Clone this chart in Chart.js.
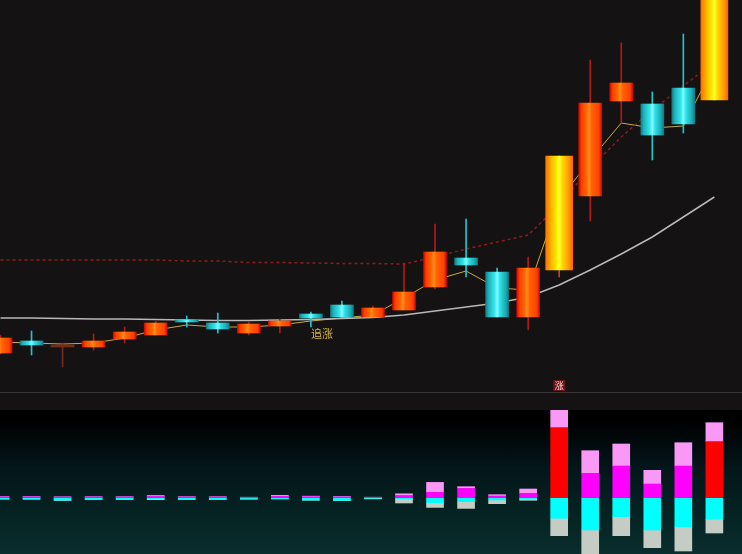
<!DOCTYPE html>
<html>
<head>
<meta charset="utf-8">
<script src="https://cdn.jsdelivr.net/npm/chart.js@4.4.0/dist/chart.umd.min.js"></script>
<style>
  html, body { margin: 0; padding: 0; background: #141213; }
  #wrap { width: 742px; height: 554px; overflow: hidden; }
  canvas { display: block; }
  #flow { background: linear-gradient(#000 0%, #000 8%, #03161a 40%, #062424 75%, #0a2d2d 100%); }
</style>
</head>
<body>
<div id="wrap">
  <canvas id="kline" width="742" height="410"></canvas>
  <canvas id="flow" width="742" height="144"></canvas>
</div>
<script>
// daily candles (price, yuan)
const openP  = [10.34,10.46,10.40,10.40,10.48,10.52,10.67,10.64,10.54,10.61,10.73,10.82,10.70,10.77,11.00,11.29,11.15,10.70,11.17,11.91,12.86,12.83,12.99,12.87];
const closeP = [10.49,10.42,10.40,10.46,10.55,10.64,10.65,10.58,10.63,10.66,10.69,10.70,10.79,10.95,11.35,11.22,10.70,11.19,12.31,12.84,13.04,12.52,12.63,13.89];
const highP  = [10.52,10.56,10.43,10.53,10.60,10.66,10.71,10.74,10.65,10.68,10.75,10.86,10.81,11.24,11.63,11.68,11.19,11.30,12.31,13.27,13.44,12.95,13.53,13.89];
const lowP   = [10.33,10.32,10.20,10.37,10.44,10.52,10.60,10.54,10.52,10.54,10.60,10.70,10.70,10.77,10.98,11.10,10.70,10.57,11.10,11.66,12.65,12.27,12.54,12.87];

// overlay lines
const maLong   = [10.69,10.69,10.685,10.68,10.68,10.675,10.67,10.665,10.665,10.67,10.675,10.685,10.695,10.72,10.76,10.80,10.84,10.90,11.02,11.17,11.33,11.50,11.70,11.90];
const maShort  = [10.45,10.44,10.43,10.44,10.49,10.57,10.62,10.60,10.60,10.62,10.66,10.69,10.72,10.89,11.07,11.16,10.99,10.97,11.87,12.27,12.64,12.59,12.61,13.22];
const stopLine = [11.27,11.27,11.27,11.27,11.27,11.27,11.26,11.26,11.245,11.245,11.24,11.235,11.235,11.23,11.30,11.38,11.45,11.52,11.82,12.19,12.50,12.77,13.01,13.25];

// lower panel: inflow (up) and outflow (down) parts
const flowPink = [0.3,0.3,0.3,0.3,0.3,1.0,0.3,0.3,0.2,1.0,0.5,0.4,0.2,1.7,10,1.7,1.3,4.3,17.7,22.6,22,13.7,23.3,19];
const flowMain = [0.8,0.8,0.6,0.7,0.7,1.2,0.7,0.7,0.3,1.3,1.0,0.8,0.3,2.2,5.3,9.3,1.7,4.4,70,24.4,31.7,13.7,31.7,56];
const flowCyan = [-1.2,-1.3,-2.5,-1.5,-1.5,-1.0,-1.5,-1.5,-0.8,-1.0,-2.3,-2.7,-0.6,-1.0,-5,-4,-2.3,-1.3,-20.6,-32.3,-19,-32.3,-29,-21.6];
const flowGray = [-0.3,-0.3,-0.3,-0.3,-0.3,-1.0,-0.3,-0.3,-0.8,-0.3,-0.3,-0.3,-0.6,-4.3,-4.7,-6.7,-3.7,-1.3,-17.4,-26,-19,-17.7,-24.3,-13.7];

const notes = [{ index: 10, text: '追涨' }];
const signals = [{ index: 18, text: '涨' }];

const X_MIN = -0.016;
const X_MAX = 23.89;

const idx = openP.map((_, i) => i);
const limitUp = idx.map(i => i > 0 && closeP[i] >= closeP[i - 1] * 1.095);

const upStops = [[0,'#c80a00'],[0.12,'#ff3c00'],[0.35,'#ff6a00'],[0.45,'#ff8c24'],[0.56,'#ff6400'],[0.88,'#ff4000'],[1,'#c80a00']];
const downStops = [[0,'#137a80'],[0.12,'#1fb0b8'],[0.38,'#34e4ea'],[0.5,'#80fcff'],[0.62,'#2ee0e8'],[0.88,'#1aa8b0'],[1,'#137a80']];
const limitStops = [[0,'#ff7000'],[0.15,'#ffa400'],[0.4,'#ffec00'],[0.5,'#ffff30'],[0.62,'#ffd800'],[0.85,'#ff9a00'],[1,'#ff6400']];

function barGradient(c, stops, w) {
  const chart = c.chart;
  if (!chart.chartArea || !c.raw) return stops[3][1];
  const cx = chart.scales.x.getPixelForValue(c.raw.x);
  const g = chart.ctx.createLinearGradient(cx - w / 2, 0, cx + w / 2, 0);
  stops.forEach(([p, col]) => g.addColorStop(p, col));
  return g;
}

function candleStops(i) {
  if (limitUp[i]) return limitStops;
  if (closeP[i] === openP[i]) return null;
  return closeP[i] > openP[i] ? upStops : downStops;
}

function wickColor(i) {
  if (limitUp[i]) return '#d04010';
  if (closeP[i] === openP[i]) return '#7a2818';
  return closeP[i] > openP[i] ? '#b01a14' : '#22c4cc';
}

const annotate = {
  id: 'annotate',
  afterDatasetsDraw(chart) {
    const { ctx, chartArea, scales: { x, y } } = chart;
    ctx.save();
    ctx.strokeStyle = '#3a3636';
    ctx.lineWidth = 1;
    ctx.beginPath();
    ctx.moveTo(chartArea.left, chartArea.bottom + 0.5);
    ctx.lineTo(chartArea.right, chartArea.bottom + 0.5);
    ctx.stroke();

    ctx.font = '11px "Noto Sans CJK SC"';
    ctx.fillStyle = '#d8b83a';
    ctx.textAlign = 'left';
    ctx.textBaseline = 'top';
    notes.forEach(n => ctx.fillText(n.text, x.getPixelForValue(n.index), y.getPixelForValue(lowP[n.index]) + 1));

    signals.forEach(s => {
      const cx = x.getPixelForValue(s.index);
      ctx.fillStyle = '#6e1414';
      ctx.fillRect(cx - 6, chartArea.bottom - 12, 12, 11);
      ctx.fillStyle = '#f2d4dc';
      ctx.font = '9px "Noto Sans CJK SC"';
      ctx.textAlign = 'center';
      ctx.textBaseline = 'middle';
      ctx.fillText(s.text, cx, chartArea.bottom - 6.5);
    });
    ctx.restore();
  }
};

const lineSet = (data, color, width, dash) => ({
  type: 'line',
  data: data.map((v, i) => ({ x: i, y: v })),
  borderColor: color,
  borderWidth: width,
  borderDash: dash || [],
  pointRadius: 0,
  tension: 0,
  order: 3
});

const normalIdx = idx.filter(i => !limitUp[i]);
const limitIdx = idx.filter(i => limitUp[i]);

new Chart(document.getElementById('kline'), {
  type: 'bar',
  data: {
    datasets: [
      lineSet(stopLine, '#8e1c1c', 1.5, [3, 3]),
      lineSet(maLong, '#b8b8b8', 1.5),
      lineSet(maShort, '#c8ac3c', 1),
      {
        data: idx.map(i => ({ x: i, y: [lowP[i], highP[i]] })),
        backgroundColor: idx.map(wickColor),
        barThickness: 1,
        grouped: false,
        order: 2
      },
      {
        data: normalIdx.map(i => ({ x: i, y: [openP[i], closeP[i]] })),
        backgroundColor: c => {
          if (!c.raw) return '#ff5a00';
          const st = candleStops(c.raw.x);
          return st ? barGradient(c, st, 23) : '#7a2a18';
        },
        barThickness: 23,
        minBarLength: 2,
        grouped: false,
        order: 1
      },
      {
        data: limitIdx.map(i => ({ x: i, y: [openP[i], closeP[i]] })),
        backgroundColor: c => barGradient(c, limitStops, 27),
        barThickness: 27,
        grouped: false,
        order: 1
      }
    ]
  },
  options: {
    responsive: false,
    animation: false,
    layout: { padding: { left: 0, right: 0, top: 0, bottom: 18 } },
    plugins: { legend: { display: false }, tooltip: { enabled: false } },
    scales: {
      x: { type: 'linear', offset: false, min: X_MIN, max: X_MAX, display: false },
      y: { min: 9.95, max: 13.87, display: false }
    }
  },
  plugins: [annotate]
});

const flowSet = (data, color) => ({
  data: data.map((v, i) => ({ x: i, y: v })),
  backgroundColor: color,
  barThickness: 17,
  stack: 'flow'
});

new Chart(document.getElementById('flow'), {
  type: 'bar',
  data: {
    datasets: [
      flowSet(flowMain, limitUp.map(f => f ? '#ff0000' : '#ff00ff')),
      flowSet(flowPink, '#fa98f6'),
      flowSet(flowCyan, '#00ffff'),
      flowSet(flowGray, '#c4ccc4')
    ]
  },
  options: {
    responsive: false,
    animation: false,
    layout: { padding: 0 },
    plugins: { legend: { display: false }, tooltip: { enabled: false } },
    scales: {
      x: { type: 'linear', offset: false, min: X_MIN, max: X_MAX, stacked: true, display: false },
      y: { min: -56.3, max: 87.7, stacked: true, display: false }
    }
  }
});
</script>
</body>
</html>
